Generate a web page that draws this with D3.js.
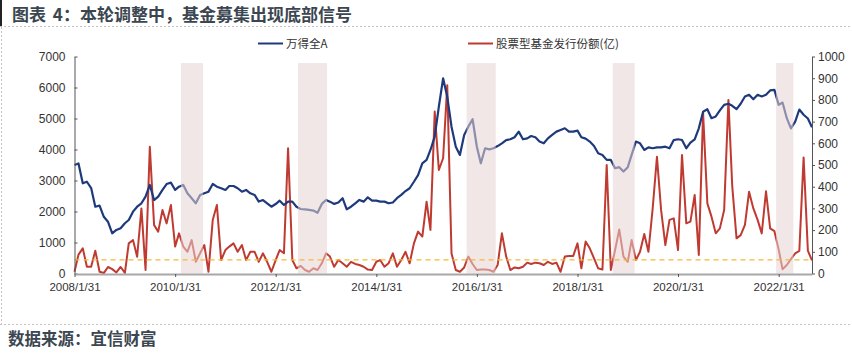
<!DOCTYPE html>
<html><head><meta charset="utf-8">
<script src="https://cdn.jsdelivr.net/npm/d3@7"></script>
<style>
html,body{margin:0;padding:0;background:#fff;}
svg text{font-family:"Liberation Sans",Arial,sans-serif;}
</style></head>
<body><svg id="c" width="852" height="354"></svg>
<script>
const titleText = "图表 4：本轮调整中，基金募集出现底部信号";
const sourceText = "数据来源：宜信财富";
const seriesNames = ["万得全A", "股票型基金发行份额(亿)"];
const startMonth = "2008-01";
const windA = [3500,3550,2910,2960,2755,2155,2190,1830,1670,1297,1405,1460,1620,1725,1995,2155,2265,2480,2855,2370,
2480,2695,2887,2930,2695,2800,2855,2587,2425,2265,2535,2587,2640,2887,2800,2750,2695,2822,2822,2750,
2640,2695,2587,2535,2320,2370,2265,2155,2240,2350,2210,2320,2320,2155,2080,2070,2050,2030,1960,2245,
2372,2318,2245,2290,2430,2070,2155,2265,2372,2318,2457,2350,2350,2318,2318,2265,2290,2430,2535,2660,
2750,2960,3175,3555,3665,3985,4416,5380,6295,5705,4737,4090,3825,4470,4737,4975,4090,3555,4040,4005,
4040,4110,4200,4305,4330,4395,4577,4330,4360,4435,4395,4255,4200,4360,4470,4577,4630,4685,4577,4577,
4610,4395,4350,4255,4115,3880,3825,3665,3665,3395,3430,3290,3430,3825,4255,4200,3985,4070,4040,4070,
4070,4090,4040,4305,4330,4305,4040,4220,4330,4685,5220,5300,5010,5065,5260,5440,5475,5410,5300,5475,
5710,5765,5620,5765,5710,5765,5905,5925,5440,5515,5010,4680,4900,5290,5120,5000,4720];
const fundIssue = [8,87,116,31,31,105,8,2,30,20,5,30,3,139,154,77,300,16,584,223,
193,293,231,316,124,185,124,100,154,54,93,131,8,247,316,62,108,124,139,100,
131,62,100,100,54,93,54,8,62,108,93,577,62,24,35,16,8,24,16,47,
93,78,31,62,47,31,54,44,39,31,18,16,54,62,31,47,93,31,62,100,
47,139,193,170,331,201,746,477,531,868,93,16,8,28,78,44,16,18,18,16,
8,39,185,78,16,28,24,31,50,44,50,47,39,54,44,50,8,78,81,81,
139,24,147,116,70,24,18,500,16,108,203,78,54,154,62,100,182,100,300,538,
293,131,247,254,108,546,231,239,362,85,741,323,262,185,208,293,800,400,162,177,
224,377,300,247,185,379,208,195,110,20,39,66,93,104,535,105,60];
const signalLevel = 63;
const bandStarts = ["2010-03-14","2012-07-11","2015-11-18","2018-10-14","2022-01-12"];
const bandEnds   = ["2010-08-21","2013-02-07","2016-06-16","2019-03-22","2022-05-18"];
const xTickDates = ["2008-01-31","2010-01-31","2012-01-31","2014-01-31","2016-01-31","2018-01-31","2020-01-31","2022-01-31"];
const leftTicks = [0,1000,2000,3000,4000,5000,6000,7000];
const rightTicks = [0,100,200,300,400,500,600,700,800,900,1000];

const parse = d3.timeParse("%Y-%m-%d");
const m0 = d3.timeParse("%Y-%m")(startMonth);
// month-end dates
const dates = windA.map((_, i) => d3.timeDay.offset(d3.timeMonth.offset(m0, i + 1), -1));

const svg = d3.select("#c");
svg.append("rect").attr("width",852).attr("height",354).attr("fill","#fff");

// frame decorations
svg.append("rect").attr("x",0).attr("y",0).attr("width",2).attr("height",26).attr("fill","#222");
svg.append("text").attr("x",12).attr("y",21).text(titleText)
  .style("font-family","'Noto Sans CJK SC'").style("font-weight","bold").style("font-size","17px")
  .style("word-spacing","3px").attr("fill","#3b4650");
svg.append("line").attr("x1",0).attr("x2",852).attr("y1",26.5).attr("y2",26.5)
  .attr("stroke","#c4c4c4").attr("stroke-dasharray","2,2");
svg.append("line").attr("x1",1.5).attr("x2",1.5).attr("y1",27).attr("y2",324)
  .attr("stroke","#c4c4c4").attr("stroke-dasharray","2,2");
svg.append("line").attr("x1",0).attr("x2",852).attr("y1",324.5).attr("y2",324.5)
  .attr("stroke","#c4c4c4").attr("stroke-dasharray","2,2");
svg.append("text").attr("x",8).attr("y",345).text(sourceText)
  .style("font-family","'Noto Sans CJK SC'").style("font-weight","bold").style("font-size","16.5px").attr("fill","#3b4650");

const x = d3.scaleTime().domain([parse("2008-01-31"), parse("2022-09-30")]).range([74.5, 812]);
const yL = d3.scaleLinear().domain([0,7000]).range([273.5, 56.5]);
const yR = d3.scaleLinear().domain([0,1000]).range([273.5, 56.5]);

// lines
const lineL = d3.line().x((d,i)=>x(dates[i])).y(d=>yL(d));
const lineR = d3.line().x((d,i)=>x(dates[i])).y(d=>yR(d));
svg.append("path").datum(fundIssue).attr("d",lineR).attr("fill","none")
  .attr("stroke","#bf3b32").attr("stroke-width",2).attr("stroke-linejoin","round");
svg.append("path").datum(windA).attr("d",lineL).attr("fill","none")
  .attr("stroke","#1f3a7c").attr("stroke-width",2.2).attr("stroke-linejoin","round");

// shaded bands (overlay)
svg.append("g").selectAll("rect").data(bandStarts).join("rect")
  .attr("x",(d)=>x(parse(d)))
  .attr("width",(d,i)=>x(parse(bandEnds[i]))-x(parse(d)))
  .attr("y",yR(970)).attr("height",yR(0)-yR(970))
  .attr("fill","#e8d4d4").attr("opacity",0.55);

// signal line
svg.append("line").attr("x1",x.range()[0]).attr("x2",x.range()[1])
  .attr("y1",yR(signalLevel)).attr("y2",yR(signalLevel))
  .attr("stroke","#f3b935").attr("stroke-width",1.4).attr("stroke-dasharray","5,4");

// axes
const gL = svg.append("g").attr("transform","translate(74.5,0)")
  .call(d3.axisLeft(yL).tickValues(leftTicks).tickFormat(d3.format("d")).tickSizeInner(-3).tickSizeOuter(0).tickPadding(9));
const gR = svg.append("g").attr("transform","translate(812,0)")
  .call(d3.axisRight(yR).tickValues(rightTicks).tickFormat(d3.format("d")).tickSizeInner(3).tickSizeOuter(0).tickPadding(3));
const gX = svg.append("g").attr("transform","translate(0,274)")
  .call(d3.axisBottom(x).tickValues(xTickDates.map(parse)).tickFormat(d3.timeFormat("%Y/%-m/%-d")).tickSizeInner(3).tickSizeOuter(0).tickPadding(6));
[gL,gR].forEach(g=>{
  g.selectAll("path.domain").attr("stroke","#555");
  g.selectAll("line").attr("stroke","#555");
  g.selectAll("text").attr("fill","#333").style("font-size","12px");
});
gX.select("path.domain").attr("stroke","#a8a8a8").attr("stroke-width",2);
gX.selectAll("line").attr("stroke","#555");
gX.selectAll("text").attr("fill","#333").style("font-size","11.5px");

// legend
const leg = [{c:"#1f3a7c", x:258, t:seriesNames[0]},{c:"#bf3b32", x:468, t:seriesNames[1]}];
leg.forEach(l=>{
  svg.append("line").attr("x1",l.x).attr("x2",l.x+25).attr("y1",43.5).attr("y2",43.5).attr("stroke",l.c).attr("stroke-width",2);
  svg.append("text").attr("x",l.x+28).attr("y",48).text(l.t)
    .style("font-family","'Noto Sans CJK SC'").style("font-size","11.5px").attr("fill","#333");
});
</script></body></html>
